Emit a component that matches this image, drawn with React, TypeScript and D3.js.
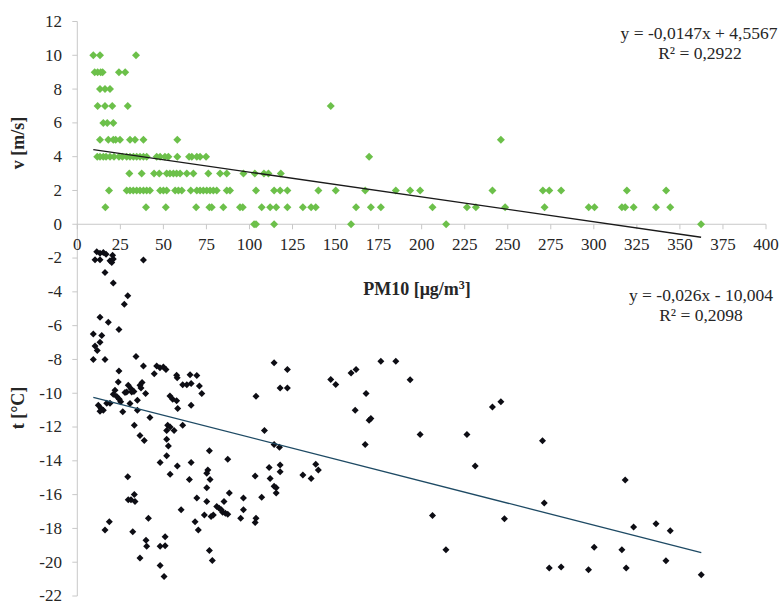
import React from "react";
import * as d3 from "d3";

// ---- data ----
const windPM = [
  9.3, 13.2, 34.1,
  10.1, 11.8, 13.6, 14.7, 24.2, 27.8,
  13.2, 16.1, 19.0,
  11.8, 16.1, 20.3, 29.3, 147.2,
  15.1, 17.4, 20.9,
  13.2, 18, 20.9, 22.3, 24.8, 30.6, 33.5, 38.4, 58.1, 246,
  11.6, 13.2, 15.1, 16.7, 19.0, 21.3, 24.2, 26.2, 28.7, 30.6, 32.6, 34.5, 36.4, 38.4, 40.3, 46.1, 48.1, 50.9, 52.9, 58.1, 64.9, 66.5, 69.4, 71.3, 74.8, 169.5,
  30.2, 37.4, 44.6, 47.6, 51.9, 53.8, 55.8, 57.7, 59.7, 63.6, 67.4, 76.1, 82.9, 86.8, 96.5, 103.1, 108.4, 111, 118.2,
  18.4, 28.7, 30.6, 32.5, 34.5, 36.4, 38.4, 40.3, 42.2, 48.1, 50, 51.9, 56.8, 58.7, 60.7, 65.9, 69.4, 71.3, 73.2, 75.2, 77.1, 79, 81, 86.8, 88.7, 103.8, 114.3, 117.8, 122, 140, 150.1, 167.2, 185, 193.3, 199.1, 241.1, 270.4, 274.1, 281, 319.2, 342,
  16.3, 39.9, 51.4, 69, 76.7, 78.1, 84.8, 94.5, 96.1, 107.1, 112, 115.5, 122, 131, 135.8, 138.5, 161.9, 170.5, 176.3, 206.3, 226.3, 231.5, 248.5, 271.4, 297, 300.4, 316.3, 318.2, 323.1, 336.1, 344.4,
  102.7, 103.8, 114.3, 159, 214.2, 362.3,
];
const windV = [
  10, 10, 10,
  9, 9, 9, 9, 9, 9,
  8, 8, 8,
  7, 7, 7, 7, 7,
  6, 6, 6,
  5, 5, 5, 5, 5, 5, 5, 5, 5, 5,
  4, 4, 4, 4, 4, 4, 4, 4, 4, 4, 4, 4, 4, 4, 4, 4, 4, 4, 4, 4, 4, 4, 4, 4, 4, 4,
  3, 3, 3, 3, 3, 3, 3, 3, 3, 3, 3, 3, 3, 3, 3, 3, 3, 3, 3,
  2, 2, 2, 2, 2, 2, 2, 2, 2, 2, 2, 2, 2, 2, 2, 2, 2, 2, 2, 2, 2, 2, 2, 2, 2, 2, 2, 2, 2, 2, 2, 2, 2, 2, 2, 2, 2, 2, 2, 2, 2,
  1, 1, 1, 1, 1, 1, 1, 1, 1, 1, 1, 1, 1, 1, 1, 1, 1, 1, 1, 1, 1, 1, 1, 1, 1, 1, 1, 1, 1, 1, 1,
  0, 0, 0, 0, 0, 0,
];

const tempPM = [
  11.3, 13.2, 15.1, 16.7, 20.5, 10.3, 13.2, 19, 20.9, 20, 38.4, 16.1, 20.9, 29.3, 27.3, 13.2, 18, 24.2, 9.3, 14.2,
  13.2, 10.3, 11.6, 9.3, 16.1, 34.1, 38.4, 24.2, 46.1, 48, 50, 51.5, 44.7, 57.7, 58, 65.5, 69.4, 66.1, 61.2, 63.6,
  70.9, 72.3, 66.1, 53.8, 55.4, 57.7, 58.3, 23.8, 21.9, 29.6, 31.2, 28.7, 31.6, 32.9, 27.7, 36.4, 37.6, 37, 39.7, 22.9,
  24.4, 20.9, 25.2, 26.4, 30.6, 34.9, 34.9, 12.2, 13.8, 15.1, 13.2, 17.1, 19, 42.2, 33.1,
  52.5, 53.9, 51.9, 56.2, 61.2, 51.9, 52.9, 36.4, 38.9, 76.7, 51.9, 48.1, 66.1, 87.4, 53.9, 58.1, 75.8, 75.2, 77.1, 65.1,
  75.2, 88.3, 29.3, 29.6, 31.2, 33.1, 33.5, 69.4, 75.2, 96.5, 85.2, 60.3, 81, 82.4, 83.6, 84.4, 86, 87.4, 96.5, 73.8,
  77.7, 79, 94.9, 41.3, 68.4, 70.3, 18.6, 16.1, 32.2, 39.9, 40.3, 51, 48.1, 51, 36.4, 76.7, 78.4, 48.1, 50.4,
  103.8, 114.3, 122, 117.8, 122, 147.2, 150.1, 159, 161.9, 176.3, 185, 193.3, 167.7, 161.4, 169.5, 170.5, 167.2, 108.7, 114.3, 117.4,
  103.3, 111.4, 112, 117.8, 117.8, 114.3, 115.5, 115.5, 107.1, 131, 135.8, 138.5, 140, 103.8, 103.3, 199.1, 226.3, 231.1, 241.1, 246,
  206.3, 214.1, 248.1,
  270.2, 271.2, 318.2, 323.1, 336.1, 344.4, 300.2, 316.3, 274.1, 281, 296.9, 318.8, 341.9, 362.4,
];
const tempT = [
  -1.63, -1.71, -1.67, -1.77, -1.83, -2.1, -2.1, -2.16, -2.06, -2.26, -2.12, -2.85, -3.48, -4.23, -4.74, -5.5, -5.8, -6.23, -6.49, -6.58,
  -6.98, -7.2, -7.47, -8, -8, -7.82, -8.39, -8.69, -8.39, -8.49, -8.45, -8.59, -8.84, -8.94, -9.08, -8.9, -8.95, -9.43, -9.5, -9.5,
  -9.57, -10.02, -10.71, -10.16, -10.35, -10.45, -10.9, -9.33, -9.83, -9.53, -9.73, -9.92, -9.92, -9.89, -9.96, -9.53, -9.37, -9.69, -10.02, -10.2,
  -10.36, -10.06, -10.51, -11.1, -10.61, -10.42, -11.0, -10.71, -10.91, -11.0, -11.07, -10.6, -10.6, -11.44, -11.89,
  -11.9, -12, -12.2, -12.2, -11.9, -12.72, -13.13, -12.5, -12.8, -13.4, -13.7, -14.1, -14.1, -13.9, -14.8, -14.3, -14.55, -14.74, -15.1, -15.1,
  -15.6, -15.9, -14.94, -16.3, -16.3, -16, -16.4, -16.2, -16.4, -16.2, -16.4, -16.9, -16.7, -16.8, -16.9, -17.04, -17.1, -17.16, -16.9, -17.2,
  -17.3, -17.2, -17.4, -17.4, -17.6, -18.1, -17.6, -18.1, -18.2, -18.7, -19.06, -18.5, -19.06, -19.03, -19.75, -19.3, -19.9, -20.2, -20.85,
  -10.18, -8.2, -8.59, -9.69, -9.69, -9.18, -9.49, -8.8, -8.59, -8.1, -8.1, -9.2, -10.02, -11, -11.6, -11.5, -13.03, -12.2, -13.03, -13.2,
  -14.9, -14.4, -15.04, -14.25, -14.64, -15.5, -15.6, -15.9, -16.15, -14.84, -15.04, -14.2, -14.55, -17.4, -17.65, -12.44, -12.44, -14.3, -10.81, -10.51,
  -17.24, -19.26, -17.43,
  -12.81, -16.5, -15.13, -17.92, -17.73, -18.14, -19.12, -19.26, -20.34, -20.28, -20.44, -20.34, -19.91, -20.74,
];

const xTicks = d3.range(0, 401, 25);
const yTicks = d3.range(-22, 13, 2);
const windFit = { slope: -0.0147, intercept: 4.5567, from: 9.3, to: 362.3 };
const tempFit = { slope: -0.026, intercept: -10.004, from: 9.3, to: 362.4 };
const windEq = ["y = -0,0147x + 4,5567", "R² = 0,2922"];
const tempEq = ["y = -0,026x - 10,004", "R² = 0,2098"];

const W = 779;
const H = 604;
const FONT = "Liberation Serif";

const diamond = (r: number) => `M0,${-r}L${r},0L0,${r}L${-r},0Z`;

export default function App() {
  const x = d3.scaleLinear().domain([0, 400]).range([77.3, 766]);
  const y = d3.scaleLinear().domain([-22, 12]).range([596, 21.5]);
  const axisColor = "#c8c8c8";
  const txt = "#262626";

  const fitPath = (f: typeof windFit) =>
    d3.line<number>()
      .x((d) => x(d))
      .y((d) => y(f.slope * d + f.intercept))([f.from, f.to]) as string;

  return (
    <svg
      width={W}
      height={H}
      style={{ position: "absolute", left: 0, top: 0, background: "#fff" }}
      fontFamily={FONT}
    >
      <rect width={W} height={H} fill="#fff" />
      {/* y axis */}
      <line x1={x(0)} x2={x(0)} y1={y(12)} y2={y(-22)} stroke={axisColor} strokeWidth={1} />
      {yTicks.map((t) => (
        <g key={"y" + t}>
          <line x1={x(0) - 5} x2={x(0)} y1={y(t)} y2={y(t)} stroke={axisColor} />
          <text x={62} y={y(t)} dy="0.32em" textAnchor="end" fontSize={17} fill={txt} fontFamily={FONT}>
            {t}
          </text>
        </g>
      ))}
      {/* x axis at y=0 */}
      <line x1={x(0)} x2={x(400)} y1={y(0)} y2={y(0)} stroke={axisColor} strokeWidth={1} />
      {xTicks.map((t) => (
        <g key={"x" + t}>
          <line x1={x(t)} x2={x(t)} y1={y(0)} y2={y(0) + 5} stroke={axisColor} />
          <text x={x(t)} y={y(0) + 26} textAnchor="middle" fontSize={17} fill={txt} fontFamily={FONT}>
            {t}
          </text>
        </g>
      ))}

      {/* wind points */}
      {windPM.map((p, i) => (
        <path
          key={"w" + i}
          d={diamond(4)}
          transform={`translate(${x(p)},${y(windV[i])})`}
          fill="#6cc04a"
        />
      ))}
      {/* temperature points */}
      {tempPM.map((p, i) => (
        <path
          key={"t" + i}
          d={diamond(3.5)}
          transform={`translate(${x(p)},${y(tempT[i])})`}
          fill="#0d0d14"
        />
      ))}

      {/* trend lines */}
      <path d={fitPath(windFit)} stroke="#1a1a1a" strokeWidth={1.3} fill="none" />
      <path d={fitPath(tempFit)} stroke="#1e4a64" strokeWidth={1.3} fill="none" />

      {/* equations */}
      <text x={699} y={39} textAnchor="middle" fontSize={17.5} fill={txt} fontFamily={FONT}>{windEq[0]}</text>
      <text x={700} y={59} textAnchor="middle" fontSize={17.5} fill={txt} fontFamily={FONT}>{windEq[1]}</text>
      <text x={701} y={301} textAnchor="middle" fontSize={17.5} fill={txt} fontFamily={FONT}>{tempEq[0]}</text>
      <text x={701} y={321} textAnchor="middle" fontSize={17.5} fill={txt} fontFamily={FONT}>{tempEq[1]}</text>

      {/* axis titles */}
      <text
        transform={`translate(24,143) rotate(-90)`}
        textAnchor="middle"
        fontSize={18}
        fontWeight="bold"
        fill={txt}
        fontFamily={FONT}
      >
        v [m/s]
      </text>
      <text
        transform={`translate(24,408) rotate(-90)`}
        textAnchor="middle"
        fontSize={18}
        fontWeight="bold"
        fill={txt}
        fontFamily={FONT}
      >
        t [°C]
      </text>
      <text x={417} y={295} textAnchor="middle" fontSize={18} fontWeight="bold" fill={txt} fontFamily={FONT}>
        PM10 [μg/m<tspan dy={-6} fontSize={12}>3</tspan><tspan dy={6}>]</tspan>
      </text>
    </svg>
  );
}
